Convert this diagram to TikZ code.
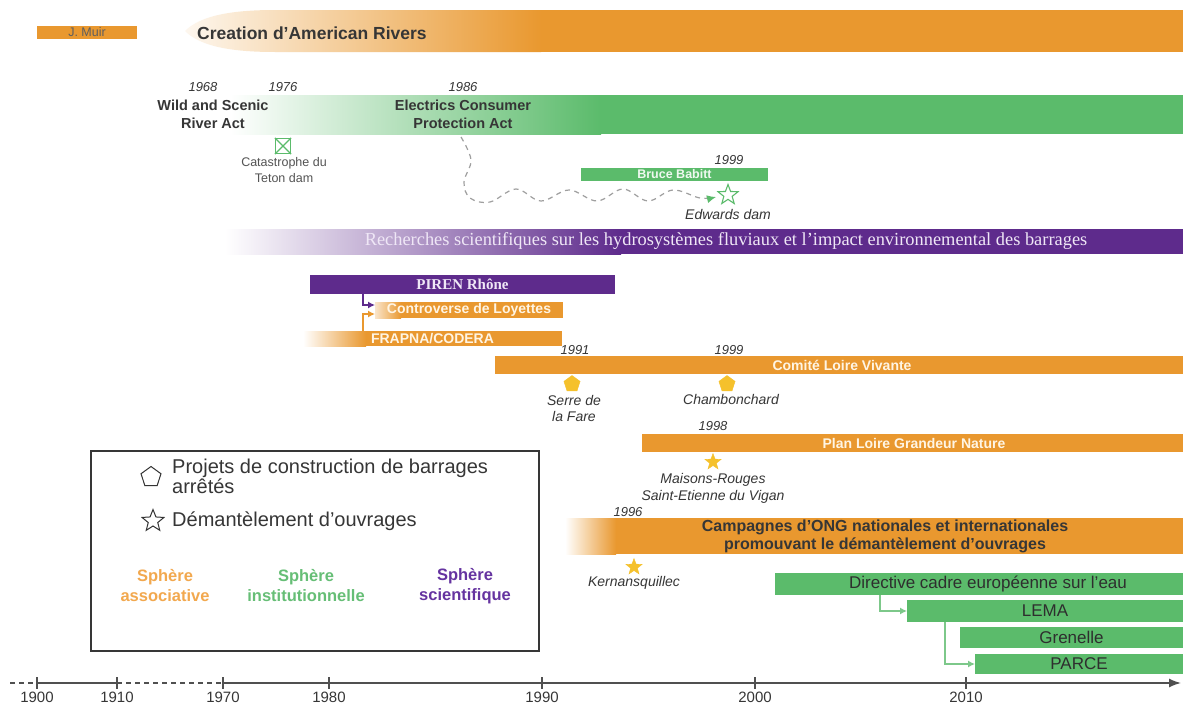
\documentclass[tikz,border=0pt]{standalone}
\usepackage{fontspec}
\setmainfont{Liberation Sans}
\newfontfamily\serifx{Liberation Serif}
\usetikzlibrary{shapes.geometric,arrows.meta}
\definecolor{orng}{HTML}{E9982F}
\definecolor{grn}{HTML}{5BBB6B}
\definecolor{lgrn}{HTML}{7DC88A}
\definecolor{prpl}{HTML}{5E2B8C}
\definecolor{ylw}{HTML}{F5C12C}
\definecolor{txt}{HTML}{363636}
\definecolor{cream}{HTML}{FFF5E4}
\definecolor{lav}{HTML}{EFE7F6}
\definecolor{sorng}{HTML}{F2A84E}
\definecolor{sgrn}{HTML}{66BE76}
\definecolor{sprpl}{HTML}{6533A0}
\definecolor{axc}{HTML}{505050}
\newcommand\fsz[2]{\fontsize{#1}{#2}\selectfont}
\begin{document}
\begin{tikzpicture}[x=1pt,y=-1pt,
  bar/.style={rectangle,inner sep=0pt,outer sep=0pt,anchor=north west},
  yr/.style={font=\fsz{13}{15}\itshape,text=txt,inner sep=0pt},
  lbl/.style={font=\fsz{14}{16}\itshape,text=txt,inner sep=0pt,align=center},
  wtxt/.style={font=\fsz{14}{16}\bfseries,text=cream,inner sep=0pt},
  gtxt/.style={font=\fsz{17}{19},text=txt!85!black,inner sep=0pt},
  ytick/.style={font=\fsz{15}{17},text=txt,inner sep=0pt,anchor=north},
  ystar/.style={star,star points=5,star point ratio=2.4,fill=ylw,draw=ylw,minimum size=17pt,inner sep=0pt},
  ypent/.style={regular polygon,regular polygon sides=5,fill=ylw,draw=ylw,minimum size=17pt,inner sep=0pt},
  link/.style={line width=1.3pt,-{Latex[length=7pt,width=7pt]}},
]
\useasboundingbox (0,0) rectangle (1183,704);
\fill[white] (0,0) rectangle (1183,704);

% J. Muir
\node[bar,fill=orng,minimum width=100pt,minimum height=13pt] (muir) at (37,26) {};
\node[font=\fsz{12.5}{13},text=txt!80,inner sep=0pt] at (muir.center) {J. Muir};

% Creation d'American Rivers
\fill[orng] (540,10) rectangle (1183,52);
\shade[left color=orng!8,right color=orng] (185,31) .. controls (200,16) and (230,10) .. (275,10) -- (541,10) -- (541,52) -- (275,52) .. controls (230,52) and (200,46) .. (185,31) -- cycle;
\node[bar,minimum width=998pt,minimum height=42pt] (amr) at (185,10) {};
\node[font=\fsz{17.5}{20}\bfseries,text=txt,anchor=west,inner sep=0pt] (amrt) at (197,33) {Creation d’American Rivers};

% green institutional bar
\fill[grn] (600,95) rectangle (1183,134);
\shade[left color=white,right color=grn] (230,95) rectangle (601,134);
\node[bar,minimum width=953pt,minimum height=39pt] (gbar) at (230,95) {};
\node[yr] at (203,87) {1968};
\node[yr] at (283,87) {1976};
\node[yr] at (463,87) {1986};
\node[font=\fsz{14.5}{18}\bfseries,text=txt,align=center,inner sep=0pt] (wsra) at (213,114) {Wild and Scenic\\River Act};
\node[font=\fsz{14.5}{18}\bfseries,text=txt,align=center,inner sep=0pt] (ecpa) at (463,114) {Electrics Consumer\\Protection Act};

% Teton dam
\node[draw=grn,line width=1.2pt,minimum size=15pt,inner sep=0pt] (teton) at (283,146) {};
\draw[grn,line width=1.2pt] (teton.north west) -- (teton.south east) (teton.north east) -- (teton.south west);
\node[font=\fsz{12.5}{16},text=txt!85,align=center,inner sep=0pt] (tetxt) at (284,170) {Catastrophe du\\Teton dam};

% Bruce Babitt / Edwards dam
\node[bar,fill=grn,minimum width=187pt,minimum height=13pt] (babitt) at (581,168) {};
\node[font=\fsz{12.5}{13}\bfseries,text=white!90!grn,inner sep=0pt] at (babitt.center) {Bruce Babitt};
\node[yr] at (729,160) {1999};
\node[star,star points=5,star point ratio=2.4,draw=grn,line width=1.1pt,minimum size=21pt,inner sep=0pt] (edw) at (728,195) {};
\node[lbl] at (728,214) {Edwards dam};
\coordinate (dstart) at (461,137);
\draw[gray!75,line width=1.2pt,dash pattern=on 5pt off 4.5pt,-{Latex[length=9pt,width=8pt,color=grn]}] plot[smooth,tension=0.6] coordinates {(dstart) (471,160) (464,182) (470,198) (490,202) (516,189) (541,201) (569,190) (597,201) (623,189) (648,201) (673,190) (700,198) (716,197)};

% purple research bar
\fill[prpl] (620,229) rectangle (1183,254);
\shade[left color=white,right color=prpl] (225,229) rectangle (621,254);
\node[bar,minimum width=958pt,minimum height=25pt] (rech) at (225,229) {};
\node[font=\serifx\fsz{18.4}{20},text=lav,inner sep=0pt] (recht) at (726,241) {Recherches scientifiques sur les hydrosystèmes fluviaux et l’impact environnemental des barrages};

% PIREN Rhone
\node[bar,fill=prpl,minimum width=305pt,minimum height=19pt] (piren) at (310,275) {};
\node[font=\serifx\bfseries\fsz{15}{17},text=lav,inner sep=0pt] at (piren.center) {PIREN Rhône};

% Controverse de Loyettes
\fill[orng] (400,302) rectangle (563,318);
\shade[left color=orng!25,right color=orng] (375,302) rectangle (401,318);
\node[bar,minimum width=188pt,minimum height=16pt] (loy) at (375,302) {};
\node[wtxt] at (loy.center) {Controverse de Loyettes};

% FRAPNA
\fill[orng] (365,331) rectangle (562,346);
\shade[left color=white,right color=orng] (303,331) rectangle (366,346);
\node[bar,minimum width=259pt,minimum height=15pt] (frap) at (303,331) {};
\node[wtxt] at (frap.center) {FRAPNA/CODERA};

\draw[prpl,link] ([xshift=53pt]piren.south west) |- ([yshift=5pt]loy.west);
\draw[orng,link] ([xshift=60pt]frap.north west) |- ([yshift=-4pt]loy.west);

% Comite Loire Vivante
\node[yr] at (575,350) {1991};
\node[yr] at (729,350) {1999};
\node[bar,fill=orng,minimum width=688pt,minimum height=18pt] (clv) at (495,356) {};
\node[wtxt] at (842,365) {Comité Loire Vivante};
\node[ypent] (sdlf) at (572,384) {};
\node[lbl] at (574,408) {Serre de\\la Fare};
\node[ypent] (chb) at (727,384) {};
\node[lbl] at (731,399) {Chambonchard};

% Plan Loire
\node[yr] at (713,426) {1998};
\node[bar,fill=orng,minimum width=541pt,minimum height=18pt] (plgn) at (642,434) {};
\node[wtxt] at (914,443) {Plan Loire Grandeur Nature};
\node[ystar] (msr) at (713,462) {};
\node[lbl,font=\fsz{14}{17}\itshape] at (713,488) {Maisons-Rouges\\Saint-Etienne du Vigan};

% Campagnes
\node[yr] at (628,512) {1996};
\fill[orng] (615,518) rectangle (1183,554);
\shade[left color=white,right color=orng] (565,518) rectangle (616,554);
\node[bar,minimum width=618pt,minimum height=36pt] (camp) at (565,518) {};
\node[font=\fsz{16}{18}\bfseries,text=txt,align=center,inner sep=0pt] at (885,536) {Campagnes d’ONG nationales et internationales\\promouvant le démantèlement d’ouvrages};
\node[ystar] (kern) at (634,567) {};
\node[lbl] at (634,583) {Kernansquillec};

% institutional (EU / France)
\node[bar,fill=grn,minimum width=408pt,minimum height=22pt] (dir) at (775,573) {};
\node[gtxt] at (988,584) {Directive cadre européenne sur l’eau};
\node[bar,fill=grn,minimum width=276pt,minimum height=22pt] (lema) at (907,600) {};
\node[gtxt] at (lema.center) {LEMA};
\node[bar,fill=grn,minimum width=223pt,minimum height=21pt] (gren) at (960,627) {};
\node[gtxt] at (gren.center) {Grenelle};
\node[bar,fill=grn,minimum width=208pt,minimum height=20pt] (parce) at (975,654) {};
\node[gtxt] at (parce.center) {PARCE};
\draw[lgrn,link] ([xshift=105pt]dir.south west) |- (lema.west);
\draw[lgrn,link] ([xshift=38pt]lema.south west) |- (parce.west);

% legend
\node[draw=txt,line width=2pt,minimum width=448pt,minimum height=200pt,anchor=north west,inner sep=0pt] (legend) at (90,450) {};
\node[regular polygon,regular polygon sides=5,draw=black!80,line width=1pt,minimum size=21pt,inner sep=0pt] (lp) at (151,477) {};
\node[anchor=west,font=\fsz{20}{17},text=txt,align=left,inner sep=0pt] (lpt) at (172,476) {Projets de construction de barrages\\arrêtés};
\node[star,star points=5,star point ratio=2.3,draw=black!80,line width=1pt,minimum size=23pt,inner sep=0pt] (ls) at (153,521) {};
\node[anchor=west,font=\fsz{20}{22},text=txt,inner sep=0pt] (lst) at (172,521) {Démantèlement d’ouvrages};
\node[font=\fsz{16.5}{20}\bfseries,text=sorng,align=center,inner sep=0pt] at (165,586) {Sphère\\associative};
\node[font=\fsz{16.5}{20}\bfseries,text=sgrn,align=center,inner sep=0pt] at (306,586) {Sphère\\institutionnelle};
\node[font=\fsz{16.5}{20}\bfseries,text=sprpl,align=center,inner sep=0pt] at (465,586) {Sphère\\scientifique};

% axis
\coordinate (a0) at (10,683);
\coordinate (a1) at (1181,683);
\foreach \px/\yv in {37/1900,117/1910,223/1970,329/1980,542/1990,755/2000,966/2010}{
  \coordinate (t\yv) at (\px,683);
}
\draw[axc,line width=1.5pt,dash pattern=on 5pt off 4pt] (a0) -- (t1900);
\draw[axc,line width=1.5pt] (t1900) -- (t1910);
\draw[axc,line width=1.5pt,dash pattern=on 5pt off 4pt] (t1910) -- (t1970);
\draw[axc,line width=1.5pt,-{Latex[length=12pt,width=9pt]}] (t1970) -- (a1);
\foreach \yv in {1900,1910,1970,1980,1990,2000,2010}{
  \draw[axc,line width=1.2pt] ([yshift=6pt]t\yv) -- ([yshift=-6pt]t\yv);
  \node[ytick] at ([yshift=-9pt]t\yv) {\yv};
}
\end{tikzpicture}
\end{document}
